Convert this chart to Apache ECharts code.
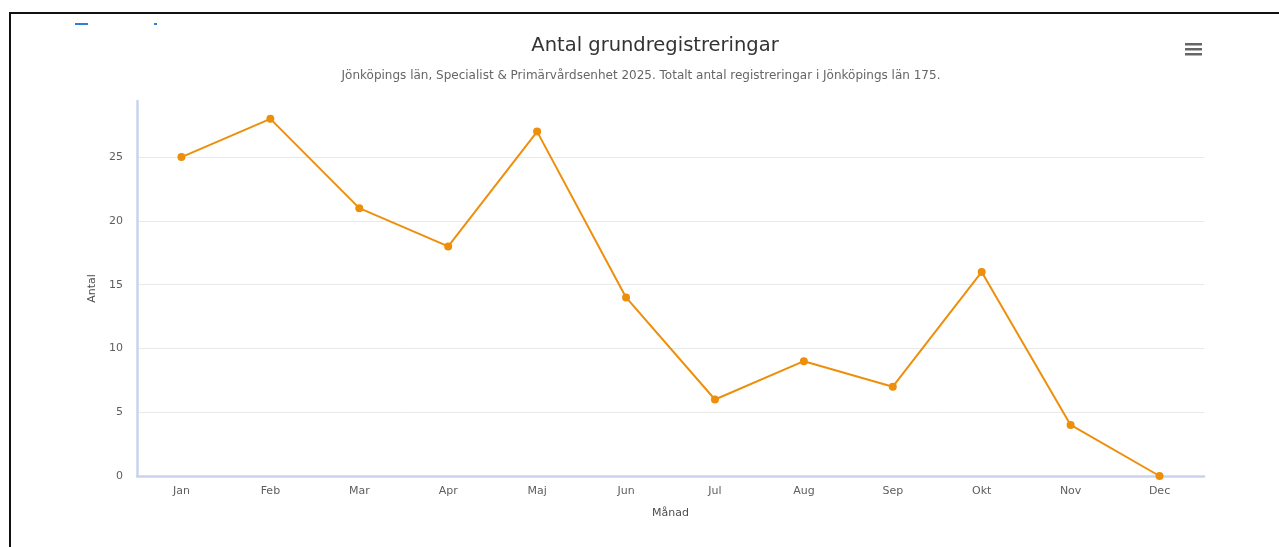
<!DOCTYPE html>
<html>
<head>
<meta charset="utf-8">
<script src="https://cdn.jsdelivr.net/npm/echarts@6/dist/echarts.min.js"></script>
<style>
  html, body { margin: 0; padding: 0; background: #fff; }
  #chart { width: 1279px; height: 547px; }
</style>
</head>
<body>
<div id="chart"></div>
<script>
// data
const months = ["Jan", "Feb", "Mar", "Apr", "Maj", "Jun", "Jul", "Aug", "Sep", "Okt", "Nov", "Dec"];
const counts = [25, 28, 21, 18, 27, 14, 6, 9, 7, 16, 4, 0];
const titleText = "Antal grundregistreringar";
const subtitleText = "Jönköpings län, Specialist & Primärvårdsenhet 2025. Totalt antal registreringar i Jönköpings län 175.";

const FONT = "DejaVu Sans";
const chart = echarts.init(document.getElementById("chart"), null, { renderer: "canvas" });

chart.setOption({
  animation: false,
  textStyle: { fontFamily: FONT },
  grid: { left: 137, right: 75, top: 101, bottom: 71, containLabel: false },
  xAxis: {
    type: "category",
    data: months,
    name: "Månad",
    nameLocation: "middle",
    nameGap: 32,
    nameTextStyle: { color: "#4d4d4d", fontSize: 11, fontFamily: FONT },
    axisLine: { lineStyle: { color: "#c9d3ee", width: 2.5 } },
    axisTick: { show: false },
    axisLabel: { color: "#5e5e5e", fontSize: 11, margin: 10 },
    splitLine: { show: false }
  },
  yAxis: {
    type: "value",
    min: 0,
    max: 29.4,
    interval: 5,
    name: "Antal",
    nameLocation: "middle",
    nameGap: 39,
    nameTextStyle: { color: "#4d4d4d", fontSize: 11, fontFamily: FONT },
    axisLine: { show: true, lineStyle: { color: "#c9d3ee", width: 2.5 } },
    axisTick: { show: false },
    axisLabel: { color: "#5e5e5e", fontSize: 11, margin: 14, showMaxLabel: false },
    splitLine: { show: true, showMinLine: false, showMaxLine: false, lineStyle: { color: "#e9e9e9", width: 1 } }
  },
  series: [{
    type: "line",
    data: counts,
    symbol: "circle",
    symbolSize: 8,
    lineStyle: { color: "#ee8f0b", width: 2 },
    itemStyle: { color: "#ee8f0b" }
  }],
  graphic: [
    // frame around the screenshot
    { type: "line", shape: { x1: 9, y1: 13, x2: 1279, y2: 13 }, style: { stroke: "#111", lineWidth: 2 } },
    { type: "line", shape: { x1: 10, y1: 12, x2: 10, y2: 547 }, style: { stroke: "#111", lineWidth: 2 } },
    // cut-off blue bits at the top left
    { type: "rect", shape: { x: 75, y: 23, width: 13, height: 2 }, style: { fill: "#2f7ed8" } },
    { type: "rect", shape: { x: 154, y: 23, width: 3, height: 2 }, style: { fill: "#2f7ed8" } },
    {
      type: "text", x: 655, y: 46,
      style: { text: titleText, fill: "#333", font: "19.5px '" + FONT + "'", textAlign: "center", textVerticalAlign: "middle" }
    },
    {
      type: "text", x: 641, y: 76,
      style: { text: subtitleText, fill: "#666", font: "12px '" + FONT + "'", textAlign: "center", textVerticalAlign: "middle" }
    },
    // menu button
    { type: "rect", shape: { x: 1185, y: 43, width: 17, height: 2.5 }, style: { fill: "#666" } },
    { type: "rect", shape: { x: 1185, y: 48, width: 17, height: 2.5 }, style: { fill: "#666" } },
    { type: "rect", shape: { x: 1185, y: 53, width: 17, height: 2.5 }, style: { fill: "#666" } }
  ]
});
</script>
</body>
</html>
